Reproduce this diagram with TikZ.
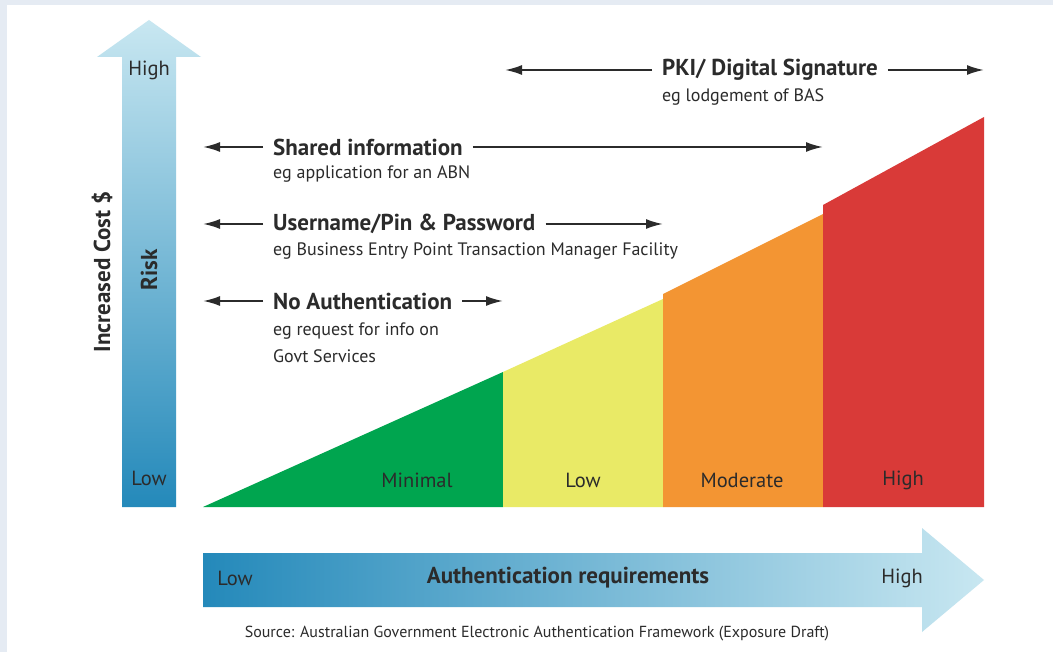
\documentclass[tikz,border=0pt]{standalone}
\usepackage{fontspec}
\setmainfont{PT Sans}
\usetikzlibrary{arrows.meta,positioning}
\definecolor{panelgrey}{HTML}{E5EBF3}
\definecolor{inkgrey}{HTML}{2B2B2B}
\definecolor{lightsky}{HTML}{C8E7F1}
\definecolor{deepsky}{HTML}{2489BA}
\definecolor{riskgreen}{HTML}{00A54F}
\definecolor{riskyellow}{HTML}{E9EA66}
\definecolor{riskorange}{HTML}{F39533}
\definecolor{riskred}{HTML}{D93A38}
\tikzset{
	rangetitle/.style={anchor=west,inner xsep=10pt,inner ysep=0pt,font=\fontsize{23}{26}\selectfont\bfseries,text=inkgrey},
	rangenote/.style={anchor=west,inner sep=0pt,align=left,font=\fontsize{18}{27}\selectfont,text=inkgrey},
	rangearrow/.style={-{Latex[length=17pt,width=10pt]},line width=2pt,draw=inkgrey},
	scalelabel/.style={font=\fontsize{20.5}{24}\selectfont,text=inkgrey},
	axistitle/.style={font=\fontsize{23}{26}\selectfont\bfseries,text=inkgrey},
}

\begin{document}
\begin{tikzpicture}[x=1pt,y=-1pt]
	\useasboundingbox (0,0) rectangle (1053,652);
	\fill[panelgrey] (0,0) rectangle (1053,652);
	\fill[white] (7,5) rectangle (1053,652);
	\shade[top color=lightsky,bottom color=deepsky] (122,507) -- (122,57) -- (97,57) -- (149,20) -- (201,57) -- (176,57) -- (176,507) -- cycle;
	\shade[left color=deepsky,right color=lightsky] (203,553) -- (922,553) -- (922,528) -- (984,580) -- (922,632) -- (922,607) -- (203,607) -- cycle;
	\fill[riskgreen] (203,507) -- (503,372) -- (503,507) -- cycle;
	\fill[riskyellow] (503,507) -- (503,372) -- (663,299) -- (663,507) -- cycle;
	\fill[riskorange] (663,507) -- (663,294) -- (823,214) -- (823,507) -- cycle;
	\fill[riskred] (823,507) -- (823,205) -- (984,117) -- (984,507) -- cycle;

	\node (risk-high) [scalelabel] at (149,70) {High};
	\node (risk-low) [scalelabel] at (149,478) {Low};
	\node (risk) [axistitle,rotate=90] at (149,270) {Risk};
	\node (cost) [axistitle,rotate=90] at (102,272) {Increased Cost \$};
	\node (auth-low) [scalelabel] at (235,578) {Low};
	\node (auth) [axistitle] at (568,578) {Authentication requirements};
	\node (auth-high) [scalelabel] at (902,578) {High};
	\node (minimal) [scalelabel] at (417,480) {Minimal};
	\node (low) [scalelabel] at (583,480) {Low};
	\node (moderate) [scalelabel] at (742,480) {Moderate};
	\node (high) [scalelabel] at (903,480) {High};
	\node (source) [font=\fontsize{16}{19}\selectfont,text=inkgrey] at (537,634) {Source: Australian Government Electronic Authentication Framework (Exposure Draft)};

	\coordinate (pki-l) at (505,70);
	\coordinate (pki-r) at (984,70);
	\node (pki) [rangetitle] at (652,70) {PKI/ Digital Signature};
	\node (pki-eg) [rangenote] at (662,97) {eg lodgement of BAS};
	\draw [rangearrow] (pki.west) -- (pki-l);
	\draw [rangearrow] (pki.east) -- (pki-r);

	\coordinate (shared-l) at (203,147);
	\coordinate (shared-r) at (823,147);
	\node (shared) [rangetitle] at (263,147) {Shared information};
	\node (shared-eg) [rangenote] at (273,174) {eg application for an ABN};
	\draw [rangearrow] (shared.west) -- (shared-l);
	\draw [rangearrow] (shared.east) -- (shared-r);

	\coordinate (pin-l) at (203,224);
	\coordinate (pin-r) at (663,224);
	\node (pin) [rangetitle] at (263,224) {Username/Pin \& Password};
	\node (pin-eg) [rangenote] at (273,251) {eg Business Entry Point Transaction Manager Facility};
	\draw [rangearrow] (pin.west) -- (pin-l);
	\draw [rangearrow] (pin.east) -- (pin-r);

	\coordinate (none-l) at (203,301);
	\coordinate (none-r) at (503,301);
	\node (none) [rangetitle] at (263,301) {No Authentication};
	\node (none-eg) [rangenote,anchor=north west] at (273,323) {eg request for info on\\Govt Services};
	\draw [rangearrow] (none.west) -- (none-l);
	\draw [rangearrow] (none.east) -- (none-r);
\end{tikzpicture}
\end{document}
